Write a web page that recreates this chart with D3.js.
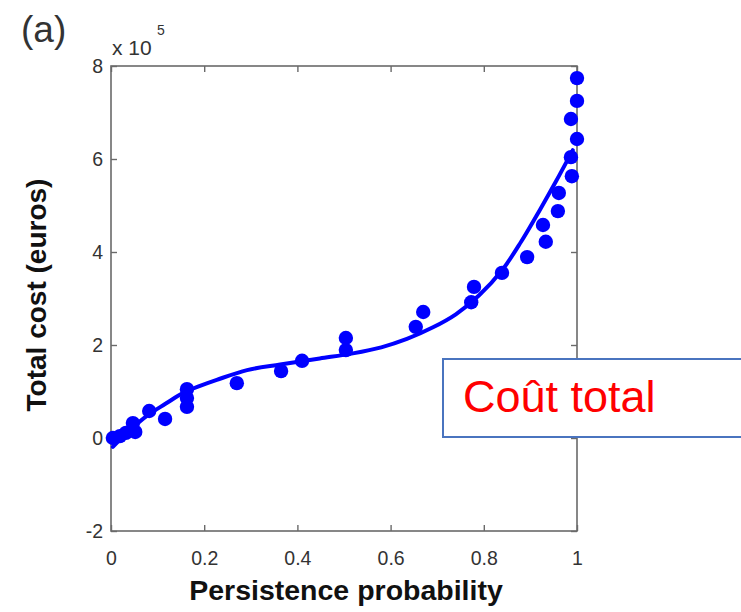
<!DOCTYPE html>
<html>
<head>
<meta charset="utf-8">
<script src="https://cdn.jsdelivr.net/npm/d3@7"></script>
<style>
  html, body { margin: 0; padding: 0; background: #fff; }
  svg { display: block; }
  text { font-family: "Liberation Sans", Arial, Helvetica, sans-serif; }
</style>
</head>
<body>
<svg id="chart" width="741" height="612"></svg>
<script>
// ---- data (cost in units of 1e5 euros) ----
const persistence = [0.004, 0.019, 0.032, 0.047, 0.052, 0.082, 0.116, 0.163, 0.163, 0.163,
  0.270, 0.365, 0.410, 0.504, 0.504, 0.654, 0.670, 0.773, 0.779, 0.839,
  0.893, 0.927, 0.933, 0.959, 0.961, 0.989, 0.987, 1.0, 0.987, 1.0, 1.0];
const totalCost = [0.00, 0.04, 0.11, 0.32, 0.13, 0.58, 0.41, 1.05, 0.86, 0.67,
  1.18, 1.44, 1.66, 2.15, 1.89, 2.39, 2.71, 2.92, 3.25, 3.55,
  3.89, 4.58, 4.22, 4.88, 5.27, 5.63, 6.04, 6.43, 6.86, 7.25, 7.74];
const fitX = [0.004, 0.041, 0.079, 0.116, 0.155, 0.191, 0.227, 0.292, 0.363, 0.448,
  0.519, 0.580, 0.635, 0.691, 0.740, 0.790, 0.840, 0.880, 0.920, 0.955, 0.991];
const fitY = [-0.19, 0.17, 0.49, 0.73, 0.97, 1.12, 1.25, 1.46, 1.58, 1.71,
  1.82, 1.95, 2.13, 2.38, 2.66, 3.07, 3.62, 4.22, 4.90, 5.52, 6.19];
const xTicks = [0, 0.2, 0.4, 0.6, 0.8, 1];
const yTicks = [-2, 0, 2, 4, 6, 8];
const xLabel = "Persistence probability";
const yLabel = "Total cost (euros)";
const panelLabel = "(a)";
const annotation = "Coût total";

// ---- layout ----
const svg = d3.select("#chart");
const L = 111, R = 577, T = 66, B = 531;
const x = d3.scaleLinear().domain([0, 1]).range([L, R]);
const y = d3.scaleLinear().domain([-2, 8]).range([B, T]);
const frameColor = "#6a6a6a";
const tickTextColor = "#333";

// frame
svg.append("rect")
  .attr("x", L).attr("y", T).attr("width", R - L).attr("height", B - T)
  .attr("fill", "none").attr("stroke", frameColor).attr("stroke-width", 1.6);

function styleAxis(g) {
  g.select(".domain").remove();
  g.selectAll(".tick line").attr("stroke", frameColor).attr("stroke-width", 1.4);
  g.selectAll(".tick text").attr("fill", tickTextColor).attr("font-size", 19.5);
}

svg.append("g").attr("transform", `translate(0,${B})`)
  .call(d3.axisBottom(x).tickValues(xTicks).tickSize(-6).tickPadding(20).tickFormat(d => String(d)))
  .call(styleAxis);
svg.append("g").attr("transform", `translate(0,${T})`)
  .call(d3.axisTop(x).tickValues(xTicks).tickSize(-6).tickFormat(""))
  .call(styleAxis);
svg.append("g").attr("transform", `translate(${L},0)`)
  .call(d3.axisLeft(y).tickValues(yTicks).tickSize(-6).tickPadding(8).tickFormat(d => String(d)))
  .call(styleAxis);
svg.append("g").attr("transform", `translate(${R},0)`)
  .call(d3.axisRight(y).tickValues(yTicks).tickSize(-6).tickFormat(""))
  .call(styleAxis);

// exponent label
svg.append("text").attr("x", 112).attr("y", 55)
  .attr("fill", tickTextColor).attr("font-size", 21).text("x 10");
svg.append("text").attr("x", 157).attr("y", 35)
  .attr("fill", tickTextColor).attr("font-size", 14).text("5");

// panel label
svg.append("text").attr("x", 21).attr("y", 42)
  .attr("fill", "#333").attr("font-size", 37).text(panelLabel);

// axis titles
svg.append("text").attr("x", (L + R) / 2 + 2).attr("y", 600)
  .attr("text-anchor", "middle").attr("font-weight", "bold").attr("font-size", 28.5)
  .attr("fill", "#111").text(xLabel);
svg.append("text").attr("transform", "translate(46,295) rotate(-90)")
  .attr("text-anchor", "middle").attr("font-weight", "bold").attr("font-size", 28)
  .attr("fill", "#111").text(yLabel);

// fit curve
const fit = fitX.map((v, i) => [v, fitY[i]]);
svg.append("path").datum(fit)
  .attr("fill", "none").attr("stroke", "#0000ff").attr("stroke-width", 4)
  .attr("stroke-linecap", "round")
  .attr("d", d3.line().x(d => x(d[0])).y(d => y(d[1])).curve(d3.curveCatmullRom));

// data points
const pts = persistence.map((v, i) => [v, totalCost[i]]);
svg.append("g").selectAll("circle").data(pts).join("circle")
  .attr("cx", d => x(d[0])).attr("cy", d => y(d[1])).attr("r", 7.2)
  .attr("fill", "#0000ff");

// annotation box
svg.append("rect").attr("x", 443).attr("y", 359).attr("width", 320).attr("height", 78)
  .attr("fill", "#fff").attr("stroke", "#4a74bf").attr("stroke-width", 2);
svg.append("text").attr("x", 463).attr("y", 412)
  .attr("font-family", "'Open Sans', 'Noto Sans', sans-serif")
  .attr("font-size", 45).attr("fill", "#ff0000").text(annotation);
</script>
</body>
</html>
